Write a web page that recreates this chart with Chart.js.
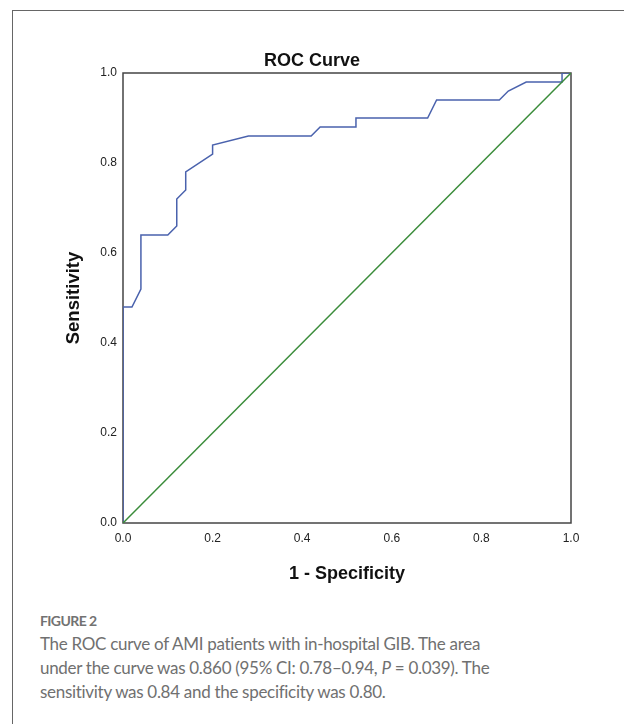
<!DOCTYPE html>
<html lang="en">
<head>
    <meta charset="UTF-8">
    <title>ROC Curve</title>
    <script src="https://cdn.jsdelivr.net/npm/chart.js"></script>
    <style>
        body { margin: 0; background: #fff; overflow: hidden; }
        #frame {
            position: absolute; left: 12px; top: 10px; width: 700px; height: 800px;
            border-left: 1px solid #666; border-top: 1px solid #666;
        }
        #rocChart { position: absolute; left: 0; top: 0; }
        .caption {
            position: absolute; left: 40px; top: 610px;
            font-family: Lato, "Open Sans", sans-serif; color: #707070;
        }
        .caption .fig { font-size: 14px; font-weight: 700; letter-spacing: -0.6px; color: #727272; line-height: 22px; }
        .caption .text { font-size: 17px; font-weight: 400; letter-spacing: -0.3px; line-height: 24px; }
    </style>
</head>
<body>
    <div id="frame"></div>
    <canvas id="rocChart" width="624" height="600"></canvas>
    <div class="caption">
        <div class="fig">FIGURE 2</div>
        <div class="text">The ROC curve of AMI patients with in-hospital GIB. The area<br>under the curve was 0.860 (95% CI: 0.78–0.94, <i>P</i> = 0.039). The<br>sensitivity was 0.84 and the specificity was 0.80.</div>
    </div>

    <script>
        // ROC points (1 - specificity, sensitivity)
        const falsePositiveRate = [0, 0, 0.02, 0.04, 0.04, 0.10, 0.12, 0.12, 0.14, 0.14, 0.20, 0.20, 0.28, 0.42, 0.44, 0.52, 0.52, 0.68, 0.70, 0.84, 0.86, 0.90, 0.98, 0.98, 1.0];
        const sensitivity       = [0, 0.48, 0.48, 0.52, 0.64, 0.64, 0.66, 0.72, 0.74, 0.78, 0.82, 0.84, 0.86, 0.86, 0.88, 0.88, 0.90, 0.90, 0.94, 0.94, 0.96, 0.98, 0.98, 1.0, 1.0];

        // chance diagonal
        const refX = [0, 1];
        const refY = [0, 1];

        const tickValues = [0, 0.2, 0.4, 0.6, 0.8, 1.0];

        const toPoints = (xs, ys) => xs.map((x, i) => ({ x: x, y: ys[i] }));

        // box round the plot area
        const plotFrame = {
            id: 'plotFrame',
            beforeDatasetsDraw(chart) {
                const { ctx, chartArea: a } = chart;
                ctx.save();
                ctx.strokeStyle = '#444';
                ctx.lineWidth = 1.5;
                ctx.strokeRect(a.left, a.top, a.right - a.left, a.bottom - a.top);
                ctx.restore();
            }
        };

        const tickFont = { family: 'Arial, "Liberation Sans", sans-serif', size: 12 };
        const titleFont = { family: 'Arial, "Liberation Sans", sans-serif', size: 18, weight: 'bold' };

        const ctx = document.getElementById('rocChart').getContext('2d');

        new Chart(ctx, {
            type: 'scatter',
            data: {
                datasets: [
                    {
                        label: 'Reference',
                        data: toPoints(refX, refY),
                        showLine: true,
                        borderColor: '#3a8c3a',
                        borderWidth: 1.5,
                        pointRadius: 0
                    },
                    {
                        label: 'ROC',
                        data: toPoints(falsePositiveRate, sensitivity),
                        showLine: true,
                        borderColor: '#4a62ad',
                        borderWidth: 1.5,
                        pointRadius: 0
                    }
                ]
            },
            options: {
                responsive: false,
                animation: false,
                layout: { padding: 0 },
                plugins: {
                    legend: { display: false },
                    tooltip: { enabled: false },
                    title: {
                        display: true,
                        text: 'ROC Curve',
                        color: '#111',
                        font: titleFont,
                        padding: { top: 50.5, bottom: 0.9 }
                    }
                },
                scales: {
                    x: {
                        type: 'linear',
                        min: 0,
                        max: 1,
                        afterBuildTicks: (s) => { s.ticks = tickValues.map(v => ({ value: v })); },
                        afterFit: (s) => { s.height = 77; },
                        grid: { display: false, drawTicks: false },
                        border: { display: false },
                        ticks: {
                            padding: 8,
                            color: '#222',
                            font: tickFont,
                            maxRotation: 0,
                            callback: (v) => Number(v).toFixed(1)
                        },
                        title: {
                            display: true,
                            text: '1 - Specificity',
                            color: '#111',
                            font: titleFont,
                            padding: { top: 0, bottom: 15.2 }
                        }
                    },
                    y: {
                        type: 'linear',
                        min: 0,
                        max: 1,
                        afterBuildTicks: (s) => { s.ticks = tickValues.map(v => ({ value: v })); },
                        afterFit: (s) => { s.width = 123; },
                        grid: { display: false, drawTicks: false },
                        border: { display: false },
                        ticks: {
                            padding: 6,
                            color: '#222',
                            font: tickFont,
                            callback: (v) => Number(v).toFixed(1)
                        },
                        title: {
                            display: true,
                            text: 'Sensitivity',
                            color: '#111',
                            font: { family: titleFont.family, size: 18.5, weight: 'bold' },
                            padding: { top: 63, bottom: 0 }
                        }
                    },
                    // empty right-hand axis, only reserves the margin so the title centres on the page
                    yRight: {
                        type: 'linear',
                        position: 'right',
                        min: 0,
                        max: 1,
                        afterFit: (s) => { s.width = 53; },
                        grid: { display: false, drawTicks: false },
                        border: { display: false },
                        ticks: { display: false }
                    }
                }
            },
            plugins: [plotFrame]
        });
    </script>
</body>
</html>
